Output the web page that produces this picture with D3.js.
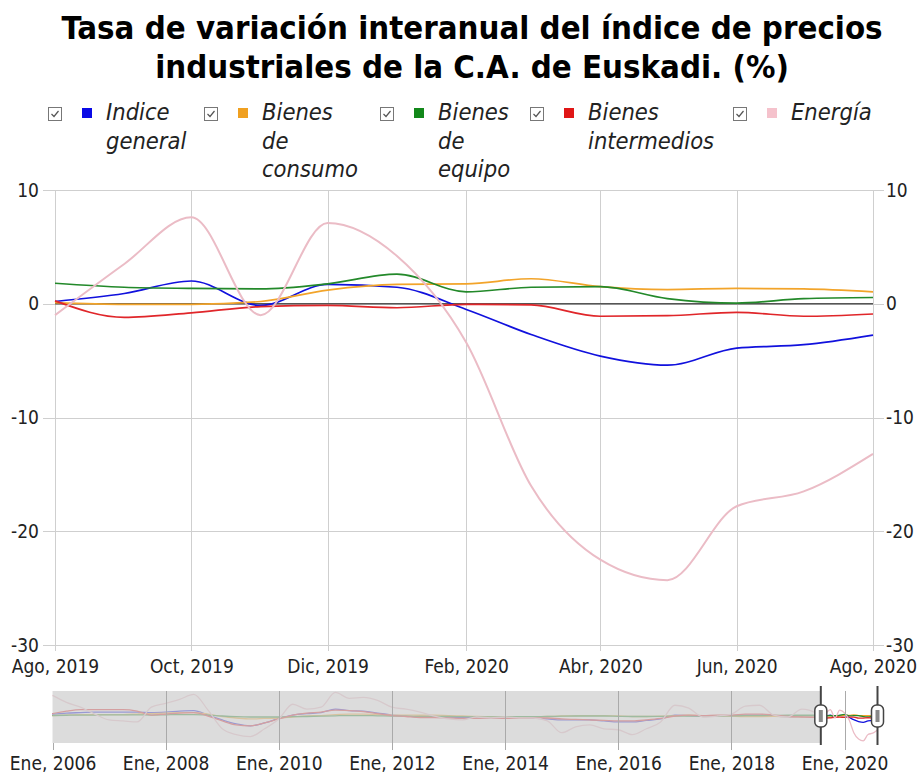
<!DOCTYPE html>
<html>
<head>
<meta charset="utf-8">
<script src="https://cdn.jsdelivr.net/npm/d3@7"></script>
<style>
body { margin: 0; background: #fff; }
svg { display: block; }
</style>
</head>
<body>
<div id="chart"></div>
<script>
// main chart: monthly, Ago 2019 - Ago 2020
var months = ['2019-08', '2019-09', '2019-10', '2019-11', '2019-12', '2020-01', '2020-02',
	'2020-03', '2020-04', '2020-05', '2020-06', '2020-07', '2020-08'];
var indiceGeneral = [0.2, 0.9, 2.0, -0.15, 1.7, 1.45, -0.5, -2.7, -4.6, -5.4, -3.9, -3.6, -2.75];
var bienesConsumo = [0.1, -0.05, -0.05, 0.2, 1.2, 1.7, 1.75, 2.2, 1.5, 1.25, 1.35, 1.3, 1.05];
var bienesEquipo = [1.8, 1.45, 1.35, 1.3, 1.75, 2.6, 1.05, 1.45, 1.5, 0.45, 0.05, 0.45, 0.55];
var bienesIntermedios = [0.25, -1.2, -0.8, -0.25, -0.15, -0.35, -0.05, -0.1, -1.1, -1.05, -0.75, -1.1, -0.9];
var energia = [-1.0, 3.5, 7.6, -1.0, 7.1, 4.2, -3.4, -16.0, -22.5, -24.3, -17.8, -16.5, -13.2];

// navigator: quarterly history, Ene 2006 - Jul 2019 (then the monthly values above)
var navIndice = [3, 4, 4.5, 5, 5, 5, 5, 4.5, 5, 6, 6.5, 2, -3, -7, -9, -6,
	-1.5, 2, 3.5, 4.5, 8, 6.5, 6, 4, 2, 1, 0, 0.5, 0, -0.5, -1, -1.5,
	-1.5, -1.5, -1, -2, -3, -3, -3, -4, -5, -5, -3.5, -2, 2, 1.5, 1, 1.5,
	1.5, 2, 2, 1, 0.5, 0.5, 0.2];
var navConsumo = [1.5, 2, 2.5, 2.5, 2.5, 2.5, 3, 3.5, 4, 4.5, 4.5, 3, 0.5, -1, -2, -1.5,
	-1, 0, 1, 1.5, 2.5, 3, 3, 2.5, 2, 2, 1.8, 2, 1.5, 1, 0.5, 0.3,
	0, 0, 0.2, 0.5, 1, 1.2, 1.5, 1.5, 1, 0.5, 0.5, 0.8, 1.5, 1.8, 1.5, 1.2,
	0.8, 0.5, 0.5, 0.6, 0.3, 0.2, 0.1];
var navEquipo = [1.5, 1.8, 2, 2, 2.2, 2.2, 2.2, 2, 2.2, 2.5, 2.5, 2, 1, 0.3, 0, 0,
	0, 0.3, 0.5, 0.8, 1.2, 1.5, 1.5, 1.2, 1, 0.8, 0.6, 0.5, 0.5, 0.3, 0.2, 0.2,
	0.2, 0.3, 0.4, 0.5, 0.8, 1, 1, 1, 0.7, 0.5, 0.5, 0.6, 0.8, 1, 1, 1,
	1.2, 1.3, 1.5, 1.6, 1.8, 1.8, 1.8];
var navIntermedios = [3.5, 6, 7.5, 7.5, 7.5, 7.5, 6, 2, 3, 4, 4.5, 1, -4, -8, -9, -6,
	-2, 2, 4, 5, 7, 6.5, 5.5, 3.5, 1.5, 0.5, -0.5, -0.5, -1, -1.5, -1.5, -1.5,
	-1.5, -1.5, -1, -1, -2, -2.5, -3, -3.5, -4, -4, -3, -1.5, 1, 2, 1.5, 2,
	2, 3, 3, 2, 0.5, 0, -0.3];
var navEnergia = [22, 15, 10, 3, -3, -4, -5, 10, 14, 18, 23, 7, -12, -18, -20, -12,
	-2, 13, 8, 10, 25, 19, 20, 17, 10, 8, 5, 1, -2, -3, 0, -1,
	0, -1, -1, -4, -16, -10, -8, -12, -13, -18, -12, -5, 12, 9, 0, 1,
	3, 11, 12, 2, 0, 8, 4];

var seriesNames = [['Indice', 'general'], ['Bienes', 'de', 'consumo'], ['Bienes', 'de', 'equipo'],
	['Bienes', 'intermedios'], ['Energía']];
var seriesColors = ['#1111dd', '#f2a42a', '#23892a', '#e0262a', '#ebbcc6'];
var legendColors = ['#0a0ae6', '#f0a020', '#12881a', '#e01616', '#f5c2cc'];

var yTicks = [10, 0, -10, -20, -30];
var xTickLabels = ['Ago, 2019', 'Oct, 2019', 'Dic, 2019', 'Feb, 2020', 'Abr, 2020', 'Jun, 2020', 'Ago, 2020'];
var navTickLabels = ['Ene, 2006', 'Ene, 2008', 'Ene, 2010', 'Ene, 2012', 'Ene, 2014', 'Ene, 2016', 'Ene, 2018', 'Ene, 2020'];

var parse = d3.timeParse('%Y-%m');
var monthDates = months.map(parse);
var mainSeries = [indiceGeneral, bienesConsumo, bienesEquipo, bienesIntermedios, energia];
var navHist = [navIndice, navConsumo, navEquipo, navIntermedios, navEnergia];
var navDates = d3.timeMonth.every(3).range(parse('2006-01'), parse('2019-08'));

var width = 919, height = 776;
var font = '"DejaVu Sans Condensed", "DejaVu Sans", sans-serif';

var svg = d3.select('#chart').append('svg')
	.attr('width', width)
	.attr('height', height)
	.style('font-family', font)
	.style('font-stretch', 'condensed');

// title
var title = svg.append('text')
	.attr('text-anchor', 'middle')
	.attr('font-weight', 'bold')
	.attr('font-size', 32.7)
	.attr('fill', '#000');
title.append('tspan').attr('x', 472).attr('y', 39).text('Tasa de variación interanual del índice de precios');
title.append('tspan').attr('x', 472).attr('y', 78).text('industriales de la C.A. de Euskadi. (%)');

// legend
var legendX = [48, 204, 380, 530, 733];
var legend = svg.append('g');
seriesNames.forEach(function (lines, i) {
	var g = legend.append('g').attr('transform', 'translate(' + legendX[i] + ',107)');
	g.append('rect')
		.attr('x', 0.5).attr('y', 0.5)
		.attr('width', 13).attr('height', 13)
		.attr('fill', '#fff').attr('stroke', '#777');
	g.append('path')
		.attr('d', 'M3.5,7 L6,9.5 L10.5,4')
		.attr('fill', 'none').attr('stroke', '#555').attr('stroke-width', 1.2);
	g.append('rect')
		.attr('x', 34).attr('y', 1)
		.attr('width', 10).attr('height', 10)
		.attr('fill', legendColors[i]);
	var t = g.append('text')
		.attr('font-style', 'italic')
		.attr('font-size', 23.5)
		.attr('fill', '#222');
	lines.forEach(function (line, j) {
		t.append('tspan').attr('x', 58).attr('y', 13 + j * 28.5).text(line);
	});
});

// main plot
var x = d3.scaleTime()
	.domain(d3.extent(monthDates))
	.range([55, 873]);
var y = d3.scaleLinear()
	.domain([-30, 10])
	.range([645, 190]);

var xTickDates = monthDates.filter(function (d, i) { return i % 2 === 0; });

var grid = svg.append('g').attr('stroke', '#cfcfcf').attr('stroke-width', 1);
grid.selectAll('.vg').data(xTickDates).enter().append('line')
	.attr('x1', function (d) { return Math.round(x(d)) + 0.5; })
	.attr('x2', function (d) { return Math.round(x(d)) + 0.5; })
	.attr('y1', y(10)).attr('y2', y(-30) + 6);
grid.selectAll('.hg').data(yTicks).enter().append('line')
	.attr('x1', 43).attr('x2', 884)
	.attr('y1', function (d) { return Math.round(y(d)) + 0.5; })
	.attr('y2', function (d) { return Math.round(y(d)) + 0.5; });

var yFmt = function (d) { return String(d); };

svg.append('g')
	.attr('transform', 'translate(40,0)')
	.call(d3.axisLeft(y).tickValues(yTicks).tickSize(0).tickPadding(1).tickFormat(yFmt))
	.call(function (g) { g.select('.domain').remove(); })
	.selectAll('text').attr('font-size', 19).attr('font-family', font).attr('fill', '#222');

svg.append('g')
	.attr('transform', 'translate(885,0)')
	.call(d3.axisRight(y).tickValues(yTicks).tickSize(0).tickPadding(1).tickFormat(yFmt))
	.call(function (g) { g.select('.domain').remove(); })
	.selectAll('text').attr('font-size', 19).attr('font-family', font).attr('fill', '#222');

svg.append('g')
	.attr('transform', 'translate(0,' + (y(-30) + 4) + ')')
	.call(d3.axisBottom(x).tickValues(xTickDates).tickSize(0).tickPadding(11)
		.tickFormat(function (d, i) { return xTickLabels[i]; }))
	.call(function (g) { g.select('.domain').remove(); })
	.selectAll('text').attr('font-size', 19).attr('font-family', font).attr('fill', '#222');

// zero line
svg.append('line')
	.attr('x1', x(monthDates[0])).attr('x2', x(monthDates[monthDates.length - 1]))
	.attr('y1', y(0)).attr('y2', y(0))
	.attr('stroke', '#555').attr('stroke-width', 1.6);

var line = d3.line()
	.x(function (d) { return x(d.date); })
	.y(function (d) { return y(d.value); })
	.curve(d3.curveMonotoneX);

var lines = svg.append('g').attr('fill', 'none');
mainSeries.forEach(function (values, i) {
	var pts = values.map(function (v, k) { return { date: monthDates[k], value: v }; });
	lines.append('path')
		.attr('d', line(pts))
		.attr('stroke', seriesColors[i])
		.attr('stroke-width', i === 4 ? 2 : 1.7);
});

// navigator
var nx = d3.scaleTime()
	.domain([parse('2006-01'), parse('2020-08')])
	.range([52.5, 877.5]);
var ny = d3.scaleLinear()
	.domain([-26.5, 26.5])
	.range([743, 691]);

var nav = svg.append('g');
nav.append('rect')
	.attr('x', nx.range()[0]).attr('y', 691)
	.attr('width', nx.range()[1] - nx.range()[0]).attr('height', 52)
	.attr('fill', '#fff');

var navLine = d3.line()
	.x(function (d) { return nx(d.date); })
	.y(function (d) { return ny(d.value); })
	.curve(d3.curveMonotoneX);

navHist.forEach(function (hist, i) {
	var pts = hist.map(function (v, k) { return { date: navDates[k], value: v }; })
		.concat(mainSeries[i].map(function (v, k) { return { date: monthDates[k], value: v }; }));
	nav.append('path')
		.attr('d', navLine(pts))
		.attr('fill', 'none')
		.attr('stroke', seriesColors[i])
		.attr('stroke-width', 1.3);
});

// mask outside the selected window
var selStart = nx(monthDates[0]), selEnd = nx(monthDates[monthDates.length - 1]);
nav.append('rect')
	.attr('x', nx.range()[0]).attr('y', 691)
	.attr('width', selStart - nx.range()[0]).attr('height', 52)
	.attr('fill', '#cfcfcf').attr('fill-opacity', 0.72);

var navTickDates = d3.timeYear.every(2).range(parse('2006-01'), parse('2020-02'));
nav.selectAll('.ng').data(navTickDates).enter().append('line')
	.attr('x1', function (d) { return Math.round(nx(d)) + 0.5; })
	.attr('x2', function (d) { return Math.round(nx(d)) + 0.5; })
	.attr('y1', function (d, i) { return i === 0 ? 743 : 691; })
	.attr('y2', 750)
	.attr('stroke', '#aaa').attr('stroke-width', 1);

svg.append('g')
	.attr('transform', 'translate(0,747)')
	.call(d3.axisBottom(nx).tickValues(navTickDates).tickSize(0).tickPadding(10)
		.tickFormat(function (d, i) { return navTickLabels[i]; }))
	.call(function (g) { g.select('.domain').remove(); })
	.selectAll('text').attr('font-size', 19).attr('font-family', font).attr('fill', '#222');

// handles
[selStart, selEnd].forEach(function (hx) {
	var h = nav.append('g').attr('transform', 'translate(' + hx + ',0)');
	h.append('line')
		.attr('y1', 686).attr('y2', 745)
		.attr('stroke', '#444').attr('stroke-width', 2);
	h.append('rect')
		.attr('x', -6).attr('y', 705)
		.attr('width', 12).attr('height', 22).attr('rx', 5)
		.attr('fill', '#fff').attr('stroke', '#444').attr('stroke-width', 1.5);
	h.append('rect')
		.attr('x', -2).attr('y', 710)
		.attr('width', 4).attr('height', 12)
		.attr('fill', '#888');
});
</script>
</body>
</html>
